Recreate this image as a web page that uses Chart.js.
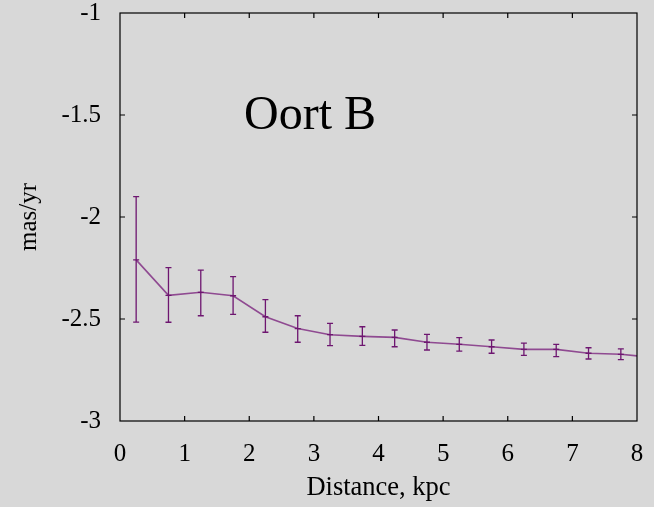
<!DOCTYPE html>
<html>
<head>
<meta charset="utf-8">
<script src="https://cdn.jsdelivr.net/npm/chart.js@4"></script>
<style>
html,body{margin:0;padding:0;background:#d8d8d8;}
#wrap{width:654px;height:507px;position:relative;}
</style>
</head>
<body>
<div id="wrap"><canvas id="c" width="654" height="507"></canvas></div>
<script>
// Data
const distances = [0.25,0.75,1.25,1.75,2.25,2.75,3.25,3.75,4.25,4.75,5.25,5.75,6.25,6.75,7.25,7.75,8.25];
const oortB     = [-2.21,-2.384,-2.369,-2.386,-2.489,-2.547,-2.577,-2.585,-2.59,-2.614,-2.624,-2.636,-2.649,-2.649,-2.668,-2.673,-2.688];
const errTop    = [-1.90,-2.248,-2.26,-2.292,-2.405,-2.484,-2.521,-2.538,-2.554,-2.575,-2.591,-2.603,-2.618,-2.624,-2.641,-2.646,-2.66];
const errBottom = [-2.515,-2.516,-2.484,-2.477,-2.565,-2.614,-2.631,-2.629,-2.636,-2.652,-2.657,-2.668,-2.678,-2.684,-2.696,-2.699,-2.715];
const xTickLabels = ['0','1','2','3','4','5','6','7','8'];
const yTickLabels = ['-3','-2.5','-2','-1.5','-1'];
const chartLabel = 'Oort B';

const SERIF = '"Liberation Serif", "DejaVu Serif", serif';

const frame = {
  id: 'frame',
  afterDatasetsDraw(chart) {
    const {ctx, chartArea: a, scales: {x, y}} = chart;
    ctx.save();
    // error bars
    ctx.strokeStyle = '#6e1670';
    ctx.lineWidth = 1.3;
    for (let i = 0; i < distances.length; i++) {
      if (distances[i] > x.max) continue;
      const px = x.getPixelForValue(distances[i]);
      const pt = y.getPixelForValue(errTop[i]);
      const pb = y.getPixelForValue(errBottom[i]);
      ctx.beginPath();
      ctx.moveTo(px, pt); ctx.lineTo(px, pb);
      ctx.moveTo(px - 3, pt); ctx.lineTo(px + 3, pt);
      ctx.moveTo(px - 3, pb); ctx.lineTo(px + 3, pb);
      const pm = y.getPixelForValue(oortB[i]);
      ctx.moveTo(px - 3, pm); ctx.lineTo(px + 3, pm);
      ctx.stroke();
    }
    // border box
    ctx.strokeStyle = '#000';
    ctx.lineWidth = 1.2;
    ctx.strokeRect(a.left, a.top, a.right - a.left, a.bottom - a.top);
    // inward ticks
    const tl = 5;
    ctx.beginPath();
    for (let v = 1; v < xTickLabels.length - 1; v++) {
      const px = x.getPixelForValue(Number(xTickLabels[v]));
      ctx.moveTo(px, a.bottom); ctx.lineTo(px, a.bottom - tl);
      ctx.moveTo(px, a.top); ctx.lineTo(px, a.top + tl);
    }
    for (let v = 1; v < yTickLabels.length - 1; v++) {
      const py = y.getPixelForValue(Number(yTickLabels[v]));
      ctx.moveTo(a.left, py); ctx.lineTo(a.left + tl, py);
      ctx.moveTo(a.right, py); ctx.lineTo(a.right - tl, py);
    }
    ctx.stroke();
    // label
    ctx.fillStyle = '#000';
    ctx.font = '48px ' + SERIF;
    ctx.textAlign = 'left';
    ctx.textBaseline = 'alphabetic';
    ctx.fillText(chartLabel, x.getPixelForValue(1.92), y.getPixelForValue(-1.569));
    ctx.restore();
  }
};

const bg = {
  id: 'bg',
  beforeDraw(chart) {
    const ctx = chart.ctx;
    ctx.save();
    ctx.fillStyle = '#d8d8d8';
    ctx.fillRect(0, 0, chart.width, chart.height);
    ctx.restore();
  }
};

new Chart(document.getElementById('c'), {
  type: 'line',
  data: {
    datasets: [{
      data: distances.map((d, i) => ({x: d, y: oortB[i]})),
      borderColor: '#8f4a91',
      borderWidth: 1.6,
      pointRadius: 0,
      fill: false,
      tension: 0,
      clip: 0
    }]
  },
  options: {
    responsive: false,
    animation: false,
    devicePixelRatio: 1,
    layout: {padding: {top: 13, right: 17, left: 0, bottom: 0}},
    plugins: {legend: {display: false}, tooltip: {enabled: false}},
    scales: {
      x: {
        type: 'linear', min: 0, max: 8,
        afterFit(s) { s.height = 86; s.paddingLeft = 0; s.paddingRight = 0; },
        grid: {display: false, drawTicks: false},
        border: {display: false},
        ticks: {
          stepSize: 1, color: '#000', padding: 18,
          font: {family: SERIF, size: 25},
          callback: (v) => xTickLabels[Math.round(v)] ?? ''
        },
        title: {display: true, text: 'Distance, kpc', color: '#000', font: {family: SERIF, size: 26.5}, padding: {top: 0, bottom: 3}}
      },
      y: {
        type: 'linear', min: -3, max: -1,
        afterFit(s) { s.width = 120; s.paddingTop = 0; s.paddingBottom = 0; },
        grid: {display: false, drawTicks: false},
        border: {display: false},
        ticks: {
          stepSize: 0.5, color: '#000', padding: 19,
          font: {family: SERIF, size: 25},
          callback: (v) => yTickLabels[Math.round((v + 3) * 2)] ?? ''
        },
        title: {display: true, text: 'mas/yr', color: '#000', font: {family: SERIF, size: 25}, padding: {top: 14, bottom: 0}}
      }
    }
  },
  plugins: [bg, frame]
});
</script>
</body>
</html>
